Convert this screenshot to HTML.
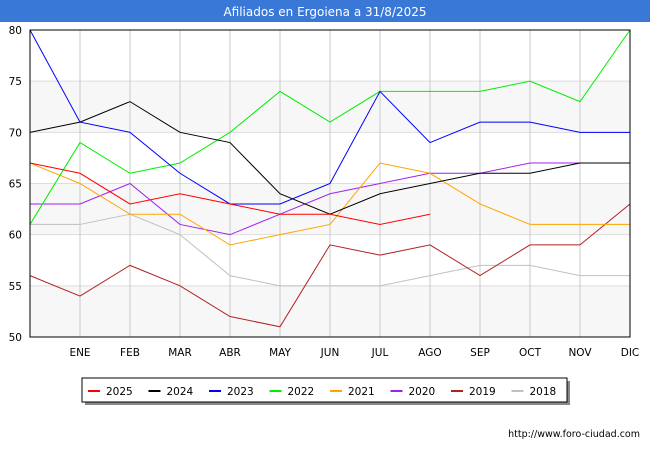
<!DOCTYPE html>
<html><head><meta charset="utf-8"><style>
body{margin:0;width:650px;height:450px;background:#fff;font-family:"DejaVu Sans",sans-serif;overflow:hidden}
</style></head><body>
<svg width="650" height="450" id="svg" font-family="DejaVu Sans, sans-serif">
<rect x="0" y="0" width="650" height="22" fill="#3a78d8"/>
<text x="325" y="16" fill="#fff" font-size="12" text-anchor="middle">Afiliados en Ergoiena a 31/8/2025</text>
<g id="bands"></g><g id="grid"></g><g id="series"></g><g id="axes"></g>
<text x="640" y="437" font-size="9.5" text-anchor="end" fill="#000">http://www.foro-ciudad.com</text>
<rect x="85" y="381" width="485" height="24" fill="#888"/>
<rect x="82" y="378" width="485" height="24" fill="#fff" stroke="#000" stroke-width="1"/>
<g id="legend"></g>
</svg>
<script>
const months=["","ENE","FEB","MAR","ABR","MAY","JUN","JUL","AGO","SEP","OCT","NOV","DIC"];
const yTicks=[50,55,60,65,70,75,80];
const seriesNames=["2025","2024","2023","2022","2021","2020","2019","2018"];
const seriesColors=["#ff0000","#000000","#0000ff","#00ee00","#ffa500","#a020f0","#b22222","#c0c0c0"];
const s2025=[67,66,63,64,63,62,62,61,62];
const s2024=[70,71,73,70,69,64,62,64,65,66,66,67,67];
const s2023=[80,71,70,66,63,63,65,74,69,71,71,70,70];
const s2022=[61,69,66,67,70,74,71,74,74,74,75,73,80];
const s2021=[67,65,62,62,59,60,61,67,66,63,61,61,61];
const s2020=[63,63,65,61,60,62,64,65,66,66,67,67,67];
const s2019=[56,54,57,55,52,51,59,58,59,56,59,59,63];
const s2018=[61,61,62,60,56,55,55,55,56,57,57,56,56];
const allSeries=[s2025,s2024,s2023,s2022,s2021,s2020,s2019,s2018];
const NS="http://www.w3.org/2000/svg";
const X0=30,X1=630,Y0=337,Y1=30,YMIN=50,YMAX=80;
const xs=i=>X0+i*(X1-X0)/12;
const ys=v=>Y0-(v-YMIN)*(Y0-Y1)/(YMAX-YMIN);
function mk(t,a,p){const e=document.createElementNS(NS,t);for(const k in a)e.setAttribute(k,a[k]);p.appendChild(e);return e;}
const bands=document.getElementById('bands'),grid=document.getElementById('grid'),ser=document.getElementById('series'),axes=document.getElementById('axes'),leg=document.getElementById('legend');
for(let i=0;i<yTicks.length-1;i++){if(i%2==0){const r=mk('rect',{x:X0,y:ys(yTicks[i+1]),width:X1-X0,height:ys(yTicks[i])-ys(yTicks[i+1]),fill:'#f7f7f7'},bands);

}}
yTicks.forEach(v=>{const l=mk('line',{x1:X0,x2:X1,y1:ys(v),y2:ys(v),stroke:'#ddd'},grid);


const t=mk('text',{x:X0-8,y:ys(v)+4,'font-size':10.5,'text-anchor':'end'},axes);t.textContent=v;

});
months.forEach((m,i)=>{if(i>0){const l=mk('line',{x1:xs(i),x2:xs(i),y1:Y1,y2:Y0,stroke:'#c8c8c8'},grid);

}
if(m){const t=mk('text',{x:xs(i),y:356,'font-size':10.5,'text-anchor':'middle'},axes);t.textContent=m;

}});
const fr=mk('rect',{x:X0,y:Y1,width:X1-X0,height:Y0-Y1,fill:'none',stroke:'#000'},axes);


for(let k=allSeries.length-1;k>=0;k--){const d=allSeries[k];
const p=mk('polyline',{points:d.map((v,i)=>xs(i)+','+ys(v)).join(' '),fill:'none',stroke:seriesColors[k],'stroke-width':1},ser);

}
seriesNames.forEach((n,k)=>{const x=88+k*60.5;
const l=mk('line',{x1:x,x2:x+12,y1:391,y2:391,stroke:seriesColors[k],'stroke-width':2},leg);


const t=mk('text',{x:x+18,y:395,'font-size':10.5},leg);t.textContent=n;

});
</script>
</body></html>
